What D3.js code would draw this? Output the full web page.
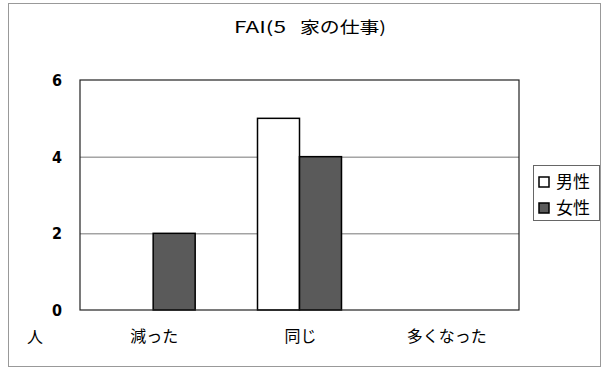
<!DOCTYPE html>
<html><head><meta charset="utf-8">
<script src="https://cdn.jsdelivr.net/npm/d3@7"></script>
<style>body{margin:0;background:#fff}</style>
</head><body>
<svg id="c" width="606" height="368"></svg>
<script>
const categories = ["減った", "同じ", "多くなった"];
const seriesNames = ["男性", "女性"];
const maleValues = [0, 5, 0];
const femaleValues = [2, 4, 0];
const yTicks = [0, 2, 4, 6];
const titleParts = ["FAI(5", "家の仕事)"];
const yUnit = "人";

const svg = d3.select("#c");
const jp = "'Noto Sans CJK JP', sans-serif";
const m = {left: 80, right: 519, top: 80, bottom: 310};

// outer frame
svg.append("rect").attr("x", 8.5).attr("y", 3.5).attr("width", 592).attr("height", 363)
  .attr("fill", "none").attr("stroke", "#999").attr("stroke-width", 1);

// title (two runs, like a half-width + full-width mixed font)
const tt = svg.append("text").attr("y", 33).attr("font-family", jp)
  .attr("font-size", 16).attr("fill", "#000");
tt.append("tspan").attr("x", 234).attr("textLength", 52)
  .attr("lengthAdjust", "spacingAndGlyphs").text(titleParts[0]);
tt.append("tspan").attr("x", 300).attr("textLength", 86)
  .attr("lengthAdjust", "spacingAndGlyphs").text(titleParts[1]);

const x0 = d3.scaleBand().domain(categories).range([m.left, m.right]);
const x1 = d3.scaleBand().domain(seriesNames).range([0, 84]);
const y = d3.scaleLinear().domain([0, 6]).range([m.bottom, m.top]);

// gridlines
svg.append("g").selectAll("line").data(yTicks.filter(t => t > 0 && t < 6)).join("line")
  .attr("x1", m.left).attr("x2", m.right)
  .attr("y1", d => y(d) + 0.5).attr("y2", d => y(d) + 0.5)
  .attr("stroke", "#777").attr("stroke-width", 1);

// y tick labels
svg.append("g").selectAll("text").data(yTicks).join("text")
  .attr("x", 62).attr("y", d => y(d) + 6).attr("text-anchor", "end")
  .attr("font-family", "'Liberation Sans Narrow', 'DejaVu Sans Condensed', sans-serif")
  .attr("font-weight", "bold").attr("font-size", 16).attr("fill", "#000")
  .text(d => d);

// bars
const data = categories.map((c, i) => ({c, vals: [maleValues[i], femaleValues[i]]}));
const fills = ["#fff", "#5a5a5a"];
const g = svg.append("g");
data.forEach(d => {
  const cx = x0(d.c) + x0.bandwidth() / 2 - 42;
  d.vals.forEach((v, j) => {
    if (v <= 0) return;
    g.append("rect")
      .attr("x", cx + x1(seriesNames[j])).attr("y", y(v))
      .attr("width", x1.bandwidth()).attr("height", y(0) - y(v))
      .attr("fill", fills[j]).attr("stroke", "#000").attr("stroke-width", 1.5);
  });
});

// plot frame
svg.append("rect").attr("x", m.left).attr("y", m.top)
  .attr("width", m.right - m.left).attr("height", m.bottom - m.top)
  .attr("fill", "none").attr("stroke", "#222").attr("stroke-width", 1.2);

// category labels
svg.append("g").selectAll("text").data(categories).join("text")
  .attr("x", d => x0(d) + x0.bandwidth() / 2 + 1).attr("y", 342)
  .attr("text-anchor", "middle").attr("font-family", jp).attr("font-size", 16)
  .attr("fill", "#000").text(d => d);

svg.append("text").attr("x", 35).attr("y", 343).attr("text-anchor", "middle")
  .attr("font-family", jp).attr("font-size", 16).attr("fill", "#000").text(yUnit);

// legend
const lg = svg.append("g");
lg.append("rect").attr("x", 533.5).attr("y", 165.5).attr("width", 66).attr("height", 55)
  .attr("fill", "#fff").attr("stroke", "#666");
seriesNames.forEach((s, i) => {
  const yy = 182 + i * 26;
  lg.append("rect").attr("x", 539).attr("y", yy - 5).attr("width", 10).attr("height", 10)
    .attr("fill", fills[i]).attr("stroke", "#000").attr("stroke-width", 1.5);
  lg.append("text").attr("x", 556).attr("y", yy + 6).attr("font-family", jp)
    .attr("font-size", 17).attr("fill", "#000").text(s);
});
</script>
</body></html>
